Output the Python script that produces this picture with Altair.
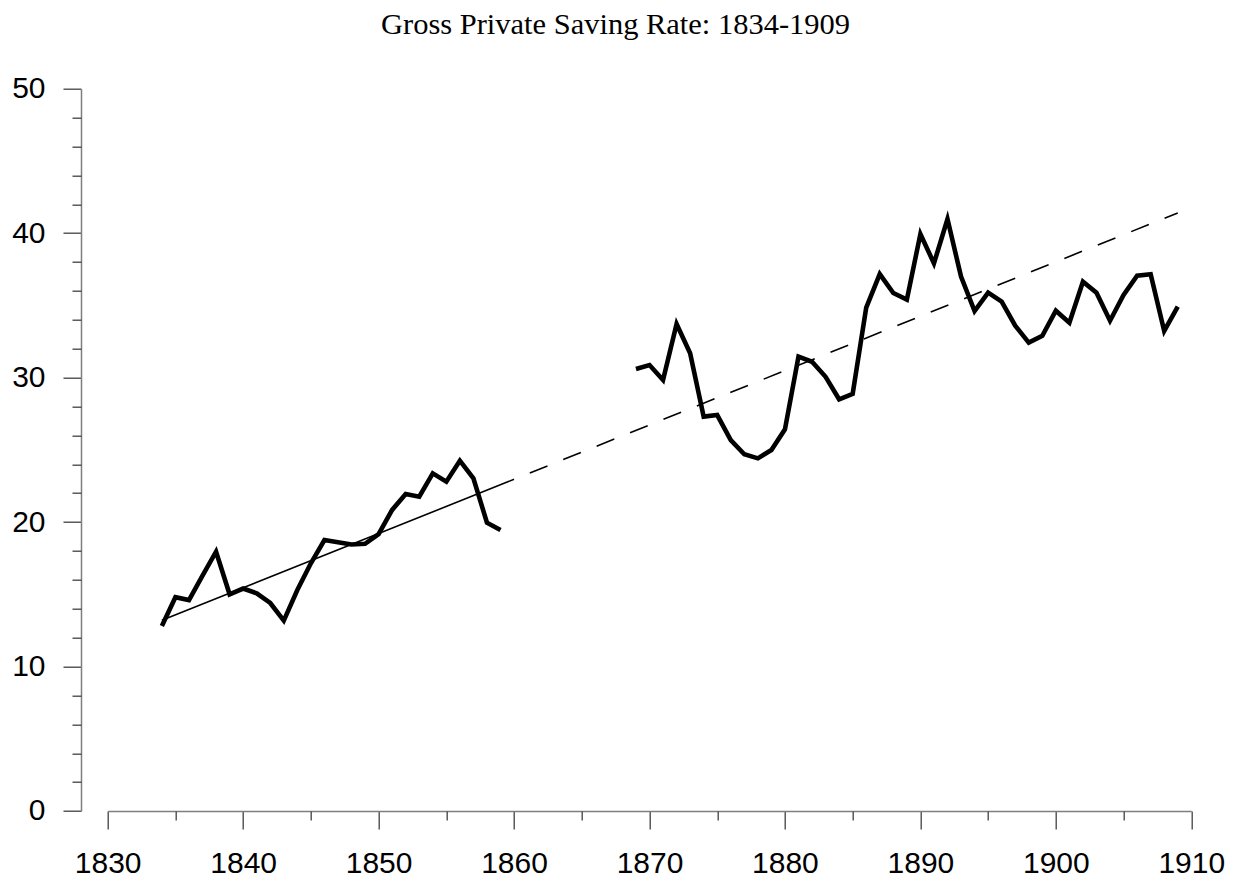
import altair as alt
import pandas as pd

# ---- data ----
years_a = list(range(1834, 1860))
rate_a = [12.8, 14.8, 14.6, 16.3, 17.95, 15.0, 15.4, 15.07, 14.4, 13.18,
          15.3, 17.15, 18.76, 18.6, 18.45, 18.5, 19.17, 20.84, 21.94, 21.76,
          23.37, 22.8, 24.25, 23.03, 19.96, 19.45]

years_b = list(range(1869, 1910))
rate_b = [30.6, 30.87, 29.84, 33.71, 31.68, 27.3, 27.41, 25.68, 24.69, 24.41,
          24.99, 26.42, 31.45, 31.1, 30.06, 28.5, 28.87, 34.85, 37.17, 35.86,
          35.4, 39.94, 37.91, 40.98, 36.99, 34.61, 35.88, 35.26, 33.6, 32.42,
          32.9, 34.63, 33.8, 36.64, 35.88, 33.94, 35.72, 37.06, 37.15, 33.23,
          34.91]

trend_solid_years = [1834, 1860]
trend_solid_vals = [13.2, 22.96]
trend_dash_years = [1860, 1909]
trend_dash_vals = [22.96, 41.4]

title_text = "Gross Private Saving Rate: 1834-1909"
x_major = list(range(1830, 1911, 10))
x_minor = list(range(1835, 1910, 10))
y_major = list(range(0, 51, 10))
y_minor = [v for v in range(2, 50, 2) if v % 10 != 0]

# ---- tables ----
series = pd.DataFrame({
    "year": years_a + years_b,
    "rate": rate_a + rate_b,
    "seg": ["a"] * len(years_a) + ["b"] * len(years_b),
})
trend_solid = pd.DataFrame({"year": trend_solid_years, "rate": trend_solid_vals})
trend_dash = pd.DataFrame({"year": trend_dash_years, "rate": trend_dash_vals})

W = 1083.6
H = 722.3
Y_OFFSET = 26.7

xscale = alt.Scale(domain=[1830, 1910], nice=False, zero=False)
yscale = alt.Scale(domain=[0, 50], nice=False, zero=True)

axis_common = dict(grid=False, title=None, domainColor="#7f7f7f", domainWidth=1.5,
                   tickColor="#404040", tickWidth=1.3,
                   labelFont="Liberation Sans", labelFontSize=30, labelColor="#000000")

x_major_axis = alt.Axis(orient="bottom", values=x_major, tickSize=18, labelPadding=20,
                        format="d", labelFlush=False, labelOverlap=False, **axis_common)
x_minor_axis = alt.Axis(orient="bottom", values=x_minor, tickSize=9, labels=False,
                        domain=False, grid=False, title=None,
                        tickColor="#404040", tickWidth=1.3)
y_major_axis = alt.Axis(orient="left", values=y_major, tickSize=18, labelPadding=18,
                        offset=Y_OFFSET, labelFlush=False, labelOverlap=False,
                        **axis_common)
y_minor_axis = alt.Axis(orient="left", values=y_minor, tickSize=9, labels=False,
                        domain=False, grid=False, title=None, offset=Y_OFFSET,
                        tickColor="#404040", tickWidth=1.3)

main = alt.Chart(series).mark_line(color="black", strokeWidth=4.6).encode(
    x=alt.X("year:Q", scale=xscale, axis=x_major_axis),
    y=alt.Y("rate:Q", scale=yscale, axis=y_major_axis),
    detail="seg:N",
)

solid = alt.Chart(trend_solid).mark_line(color="black", strokeWidth=1.6).encode(
    x=alt.X("year:Q", scale=xscale, axis=x_minor_axis),
    y=alt.Y("rate:Q", scale=yscale, axis=y_minor_axis),
)

dash = alt.Chart(trend_dash).mark_line(color="black", strokeWidth=1.6,
                                       strokeDash=[19, 17], strokeDashOffset=19).encode(
    x=alt.X("year:Q", scale=xscale, axis=None),
    y=alt.Y("rate:Q", scale=yscale, axis=None),
)

title = alt.Chart(pd.DataFrame({"t": [title_text]})).mark_text(
    font="Liberation Serif", fontSize=30.5, color="black", align="center",
    baseline="alphabetic",
).encode(
    text="t:N",
    x=alt.value(507.8),
    y=alt.value(-54.7),
)

chart = alt.layer(main, solid, dash, title).resolve_axis(
    x="independent", y="independent"
).properties(
    width=W, height=H,
    autosize=alt.AutoSizeParams(type="none"),
    padding={"left": 99.7, "top": 80.7, "right": 35, "bottom": 66},
).configure(background="white").configure_view(strokeWidth=0)

chart.save("out.html", embed_options={"renderer": "svg", "actions": False})
